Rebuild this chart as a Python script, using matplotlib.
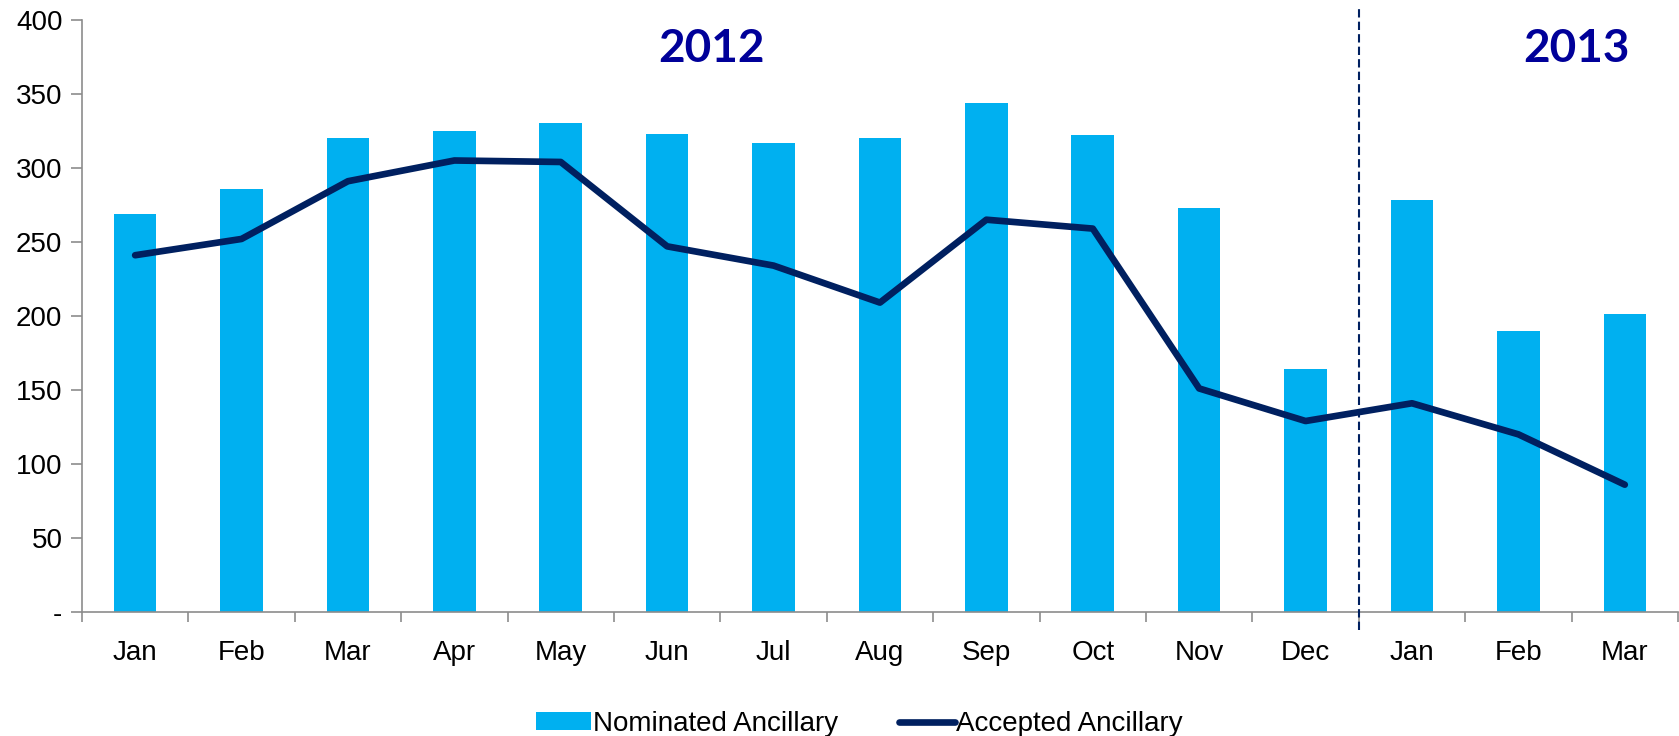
import numpy as np
import matplotlib.pyplot as plt

months = ["Jan", "Feb", "Mar", "Apr", "May", "Jun", "Jul", "Aug",
          "Sep", "Oct", "Nov", "Dec", "Jan", "Feb", "Mar"]
nominated = [269, 286, 320, 325, 330, 323, 317, 320, 344, 322, 273, 164, 278, 190, 201]
accepted = [241, 252, 291, 305, 304, 247, 234, 209, 265, 259, 151, 129, 141, 120, 86]
years = ["2012", "2013"]

BAR = "#00B0F0"
LINE = "#002060"
YEAR = "#000099"
GRID = "#8C8C8C"

plt.rcParams["font.family"] = ["Liberation Sans", "DejaVu Sans"]

fig = plt.figure(figsize=(16.79, 7.36), dpi=100)
ax = fig.add_axes([0.0488, 0.1685, 0.9506, 0.8045])

x = np.arange(len(months))
bars = ax.bar(x, nominated, width=0.4, color=BAR, label="Nominated Ancillary", zorder=2)
line, = ax.plot(x, accepted, color=LINE, lw=4.8, solid_capstyle="round",
                solid_joinstyle="round", label="Accepted Ancillary", zorder=3)

ax.set_xlim(-0.5, len(months) - 0.5)
ax.set_ylim(0, 400)
ax.set_yticks(range(0, 401, 50))
ax.set_yticklabels(["-"] + [str(v) for v in range(50, 401, 50)], fontsize=20)
ax.set_xticks(x)
ax.set_xticklabels(months, fontsize=20)
ax.set_xticks(np.arange(-0.5, len(months), 1), minor=True)
ax.tick_params(axis="x", which="major", length=0, pad=20)
ax.tick_params(axis="x", which="minor", length=7, width=1.2, color=GRID)
ax.tick_params(axis="y", length=8, width=1.2, color=GRID, pad=6)

for s in ["top", "right"]:
    ax.spines[s].set_visible(False)
for s in ["left", "bottom"]:
    ax.spines[s].set_color(GRID)
    ax.spines[s].set_linewidth(1.2)

# year divider between Dec and Jan
ax.axvline(11.5, ymin=-0.03, ymax=1.024, color=LINE, lw=1.5,
           ls=(0, (4, 2)), clip_on=False, zorder=4)

ax.text(5.42, 380, years[0], color=YEAR, fontsize=33, fontweight="bold",
        family=["Lato", "DejaVu Sans"], ha="center", va="center")
ax.text(13.55, 380, years[1], color=YEAR, fontsize=33, fontweight="bold",
        family=["Lato", "DejaVu Sans"], ha="center", va="center")

ax.legend([bars, line], ["Nominated Ancillary", "Accepted Ancillary"],
          loc="upper center", bbox_to_anchor=(0.487, -0.125), ncol=2,
          frameon=False, fontsize=20, handlelength=2.0, handleheight=0.6,
          handletextpad=0.05, columnspacing=2.2)

fig.savefig("out.png", dpi=100)
